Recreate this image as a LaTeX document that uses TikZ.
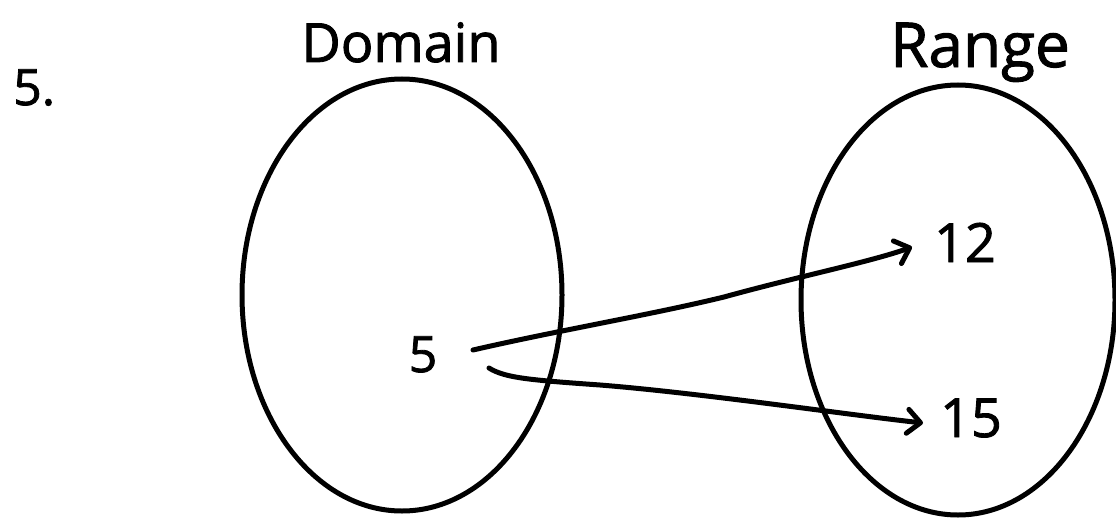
\documentclass[tikz,border=0pt]{standalone}
\usepackage{fontspec}
\setmainfont{Open Sans}[FakeBold=1.6]
\usetikzlibrary{shapes.geometric,arrows.meta}
\tikzset{
  set/.style={draw, ellipse, line width=5pt, inner sep=0pt},
  lbl/.style={anchor=base, inner sep=0pt, font=\fontsize{50}{50}\selectfont},
  title/.style={anchor=base, inner sep=0pt, font=\fontsize{54}{54}\selectfont},
  arr/.style={line width=5pt, line cap=round, line join=round,
    -{Straight Barb[length=13pt,width=24pt,line cap=round,line join=round]}}
}
\begin{document}
\begin{tikzpicture}[x=1pt,y=-1pt]
\useasboundingbox (0,0) rectangle (1116,519);
\node[lbl, anchor=base west] (num) at (13,105) {5.};
\node[title] (dt) at (401,62) {Domain};
\node[title, font=\fontsize{62}{62}\selectfont] (rt) at (980,67) {Range};
\node[set, minimum width=320pt, minimum height=432pt] (dom) at (402,295) {};
\node[set, minimum width=314pt, minimum height=430pt] (ran) at (958,300) {};
\node[lbl] (n5) at (423,372) {5};
\node[lbl, font=\fontsize{54}{54}\selectfont] (n12) at (965,262) {12};
\node[lbl, font=\fontsize{54}{54}\selectfont] (n15) at (971,437) {15};
\coordinate (s1) at ([shift={(50,-22)}]n5.base);
\coordinate (s2) at ([shift={(66,-4)}]n5.base);
\coordinate (e1) at ([shift={(-53,-15)}]n12.base);
\coordinate (e2) at ([shift={(-48,-14)}]n15.base);
\draw[arr] (s1) .. controls (560,330) and (650,315) .. (724,297)
  .. controls (800,276) and (870,262) .. (e1);
\draw[arr] (s2) .. controls (505,378) and (530,380) .. (600,385)
  .. controls (700,393) and (850,415) .. (e2);
\end{tikzpicture}
\end{document}
